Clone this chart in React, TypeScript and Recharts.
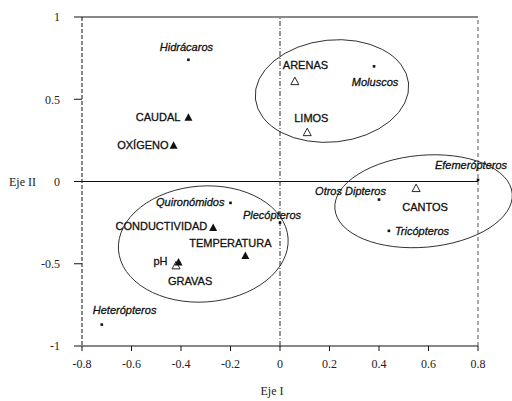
import {
  ScatterChart,
  Scatter,
  XAxis,
  YAxis,
  ReferenceLine,
  Label,
} from "recharts";

// axis ticks
const X_TICKS = [-0.8, -0.6, -0.4, -0.2, 0, 0.2, 0.4, 0.6, 0.8];
const Y_TICKS = [-1, -0.5, 0, 0.5, 1];

// environmental variables (filled triangles)
const VARIABLE_NAMES = ["CAUDAL", "OXÍGENO", "CONDUCTIVIDAD", "TEMPERATURA", "pH"];
const VARIABLE_X = [-0.37, -0.43, -0.27, -0.14, -0.41];
const VARIABLE_Y = [0.39, 0.22, -0.28, -0.45, -0.49];

// substrate (open triangles)
const SUBSTRATE_NAMES = ["ARENAS", "LIMOS", "CANTOS", "GRAVAS"];
const SUBSTRATE_X = [0.06, 0.11, 0.55, -0.42];
const SUBSTRATE_Y = [0.61, 0.3, -0.04, -0.51];

// taxa (small dots)
const TAXA_NAMES = [
  "Hidrácaros",
  "Moluscos",
  "Efemerópteros",
  "Otros Dipteros",
  "Tricópteros",
  "Quironómidos",
  "Plecópteros",
  "Heterópteros",
];
const TAXA_X = [-0.37, 0.38, 0.8, 0.4, 0.44, -0.2, 0.0, -0.72];
const TAXA_Y = [0.74, 0.7, 0.01, -0.11, -0.3, -0.13, -0.25, -0.87];

// groups circled on the plot (ellipse centres)
const GROUP_NAMES = ["finos", "gruesos", "cantos"];
const GROUP_X = [0.21, -0.31, 0.58];
const GROUP_Y = [0.55, -0.38, -0.12];

type Pt = { name: string; x: number; y: number };

const zip = (names: string[], xs: number[], ys: number[]): Pt[] =>
  names.map((name, i) => ({ name, x: xs[i], y: ys[i] }));

const variables = zip(VARIABLE_NAMES, VARIABLE_X, VARIABLE_Y);
const substrates = zip(SUBSTRATE_NAMES, SUBSTRATE_X, SUBSTRATE_Y);
const taxa = zip(TAXA_NAMES, TAXA_X, TAXA_Y);
const groups = zip(GROUP_NAMES, GROUP_X, GROUP_Y);

// label placement relative to the marker: dx, dy, anchor
const LABEL_POS: Record<string, [number, number, "start" | "middle" | "end"]> = {
  CAUDAL: [-8, 4, "end"],
  "OXÍGENO": [-5, 4, "end"],
  CONDUCTIVIDAD: [-6, 2, "end"],
  TEMPERATURA: [-15, -9, "middle"],
  pH: [-11, 3, "end"],
  GRAVAS: [-8, 20, "start"],
  ARENAS: [-12, -12, "start"],
  LIMOS: [-13, -10, "start"],
  CANTOS: [9, 23, "middle"],
  "Hidrácaros": [-2, -9, "middle"],
  Moluscos: [1, 20, "middle"],
  "Efemerópteros": [-7, -11, "middle"],
  "Otros Dipteros": [7, -5, "end"],
  "Tricópteros": [6, 4, "start"],
  "Quironómidos": [-6, 3, "end"],
  "Plecópteros": [-8, -4, "middle"],
  "Heterópteros": [-9, -11, "start"],
};

const ELLIPSE_SHAPE: Record<string, { rx: number; ry: number; angle: number }> = {
  finos: { rx: 77, ry: 51, angle: -6 },
  gruesos: { rx: 85, ry: 58, angle: -4 },
  cantos: { rx: 89, ry: 46, angle: -5 },
};

const SANS = "'Liberation Sans', Arial, sans-serif";
const SERIF = "'Liberation Serif', 'Times New Roman', serif";
const INK = "#111";

function PointLabel({ cx, cy, name, italic }: { cx: number; cy: number; name: string; italic?: boolean }) {
  const [dx, dy, anchor] = LABEL_POS[name] ?? [6, 4, "start"];
  return (
    <text
      x={cx + dx}
      y={cy + dy}
      textAnchor={anchor}
      fontFamily={SANS}
      fontSize={11}
      fontStyle={italic ? "italic" : "normal"}
      fill={INK}
      stroke={INK}
      strokeWidth={0.3}
    >
      {name}
    </text>
  );
}

const filledTriangle = (props: any) => {
  const { cx, cy, payload } = props;
  return (
    <g>
      <path d={`M${cx},${cy - 4} L${cx + 4},${cy + 3.5} L${cx - 4},${cy + 3.5} Z`} fill={INK} />
      <PointLabel cx={cx} cy={cy} name={payload.name} />
    </g>
  );
};

const openTriangle = (props: any) => {
  const { cx, cy, payload } = props;
  return (
    <g>
      <path
        d={`M${cx},${cy - 4} L${cx + 4},${cy + 3.5} L${cx - 4},${cy + 3.5} Z`}
        fill="none"
        stroke={INK}
        strokeWidth={0.9}
      />
      <PointLabel cx={cx} cy={cy} name={payload.name} />
    </g>
  );
};

const taxonDot = (props: any) => {
  const { cx, cy, payload } = props;
  return (
    <g>
      <rect x={cx - 1.3} y={cy - 1.3} width={2.6} height={2.6} fill={INK} />
      <PointLabel cx={cx} cy={cy} name={payload.name} italic />
    </g>
  );
};

const groupEllipse = (props: any) => {
  const { cx, cy, payload } = props;
  const s = ELLIPSE_SHAPE[payload.name];
  return (
    <ellipse
      cx={cx}
      cy={cy}
      rx={s.rx}
      ry={s.ry}
      transform={`rotate(${s.angle} ${cx} ${cy})`}
      fill="none"
      stroke="#222"
      strokeWidth={0.9}
    />
  );
};

const XTick = ({ x, y, payload }: any) => (
  <text x={x} y={y} dy="0.71em" textAnchor="middle" fontFamily={SERIF} fontSize={12} fill="#222">
    {String(payload.value)}
  </text>
);

const YTick = ({ x, y, payload }: any) => (
  <text x={x} y={y} dy="0.355em" textAnchor="end" fontFamily={SERIF} fontSize={12} fill="#222">
    {String(payload.value)}
  </text>
);

export default function App() {
  return (
    <div style={{ position: "absolute", left: 0, top: 0, background: "#fff" }}>
      <ScatterChart
        width={512}
        height={401}
        margin={{ top: 17, right: 34, bottom: 25, left: 42 }}
      >
        <XAxis
          type="number"
          dataKey="x"
          domain={[-0.8, 0.8]}
          ticks={X_TICKS}
          interval={0}
          tick={XTick}
          tickSize={5}
          tickMargin={8}
          height={30}
          axisLine={{ stroke: INK }}
          tickLine={{ stroke: INK }}
        >
          <Label
            value="Eje I"
            position="bottom"
            offset={10}
            dx={-8}
            style={{ fontFamily: SERIF, fontSize: 12, fill: "#222" }}
          />
        </XAxis>
        <YAxis
          type="number"
          dataKey="y"
          domain={[-1, 1]}
          ticks={Y_TICKS}
          interval={0}
          width={40}
          tick={YTick}
          tickSize={8}
          tickMargin={14}
          axisLine={{ stroke: INK, strokeDasharray: "4 2" }}
          tickLine={{ stroke: INK }}
        >
          <Label
            value="Eje II"
            position="left"
            offset={6}
            style={{ fontFamily: SERIF, fontSize: 12, fill: "#222" }}
          />
        </YAxis>

        <ReferenceLine y={1} stroke={INK} strokeWidth={1} />
        <ReferenceLine y={0} stroke={INK} strokeWidth={1} />
        <ReferenceLine x={0} stroke={INK} strokeWidth={0.9} strokeDasharray="5 2 1 2" />
        <ReferenceLine x={0.8} stroke="#444" strokeWidth={0.9} strokeDasharray="4 3" />

        <Scatter data={groups} shape={groupEllipse} isAnimationActive={false} />
        <Scatter data={taxa} shape={taxonDot} isAnimationActive={false} />
        <Scatter data={substrates} shape={openTriangle} isAnimationActive={false} />
        <Scatter data={variables} shape={filledTriangle} isAnimationActive={false} />
      </ScatterChart>
    </div>
  );
}
